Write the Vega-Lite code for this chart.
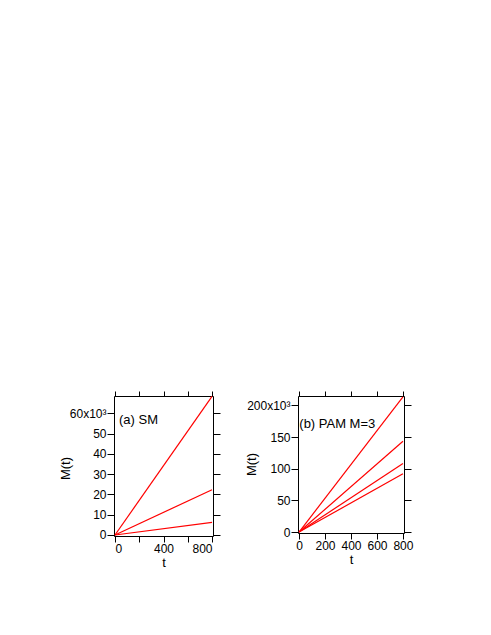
{
  "$schema": "https://vega.github.io/schema/vega-lite/v6.json",
  "background": "white",
  "padding": {"left": 58, "top": 390, "right": 5, "bottom": 5},
  "spacing": 23,
  "config": {
    "view": {"stroke": "black", "strokeWidth": 1},
    "font": "Liberation Sans",
    "axis": {
      "grid": false,
      "domain": false,
      "tickColor": "black",
      "tickSize": 7,
      "tickWidth": 1,
      "labelFont": "Liberation Sans",
      "labelFontSize": 12,
      "labelColor": "black",
      "labelPadding": 1,
      "titleFont": "Liberation Sans",
      "titleFontSize": 13,
      "titleFontWeight": "normal",
      "titleColor": "black",
      "titlePadding": 2
    }
  },
  "datasets": {
    "a": [
      {"s": 1, "t": 0, "M": 0}, {"s": 1, "t": 800, "M": 68300},
      {"s": 2, "t": 0, "M": 0}, {"s": 2, "t": 800, "M": 22300},
      {"s": 3, "t": 0, "M": 0}, {"s": 3, "t": 800, "M": 6200}
    ],
    "b": [
      {"s": 1, "t": 0, "M": 0}, {"s": 1, "t": 800, "M": 213500},
      {"s": 2, "t": 0, "M": 0}, {"s": 2, "t": 800, "M": 143500},
      {"s": 3, "t": 0, "M": 0}, {"s": 3, "t": 800, "M": 108500},
      {"s": 4, "t": 0, "M": 0}, {"s": 4, "t": 800, "M": 92000}
    ]
  },
  "hconcat": [
    {
      "width": 99,
      "height": 140,
      "layer": [
        {
          "data": {"name": "a"},
          "mark": {"type": "line", "color": "#ff0000", "strokeWidth": 1.2},
          "encoding": {
            "x": {"field": "t", "type": "quantitative",
              "scale": {"domain": [-8, 808], "nice": false, "zero": false},
              "axis": {"orient": "bottom", "tickSize": 6, "values": [0, 200, 400, 600, 800],
                "labelExpr": "datum.value % 400 == 0 ? datum.label : ''", "title": "t"}},
            "y": {"field": "M", "type": "quantitative",
              "scale": {"domain": [-500, 68500], "nice": false, "zero": false},
              "axis": {"orient": "left", "values": [0, 10000, 20000, 30000, 40000, 50000, 60000],
                "labelExpr": "datum.value == 60000 ? '60x10³' : format(datum.value / 1000, 'd')",
                "title": "M(t)", "titleX": -42, "titleY": 72}},
            "detail": {"field": "s"}
          }
        },
        {
          "data": {"name": "a"},
          "mark": {"type": "line", "opacity": 0},
          "encoding": {
            "x": {"field": "t", "type": "quantitative",
              "axis": {"orient": "top", "tickSize": 5, "values": [0, 200, 400, 600, 800], "labels": false, "title": null}},
            "y": {"field": "M", "type": "quantitative",
              "axis": {"orient": "right", "values": [0, 10000, 20000, 30000, 40000, 50000, 60000], "labels": false, "title": null}},
            "detail": {"field": "s"}
          }
        },
        {
          "data": {"values": [{"t": 33, "M": 56600, "label": "(a) SM"}]},
          "mark": {"type": "text", "align": "left", "baseline": "middle", "fontSize": 13, "font": "Liberation Sans", "color": "black"},
          "encoding": {
            "x": {"field": "t", "type": "quantitative", "axis": null},
            "y": {"field": "M", "type": "quantitative", "axis": null},
            "text": {"field": "label"}
          }
        }
      ],
      "resolve": {"axis": {"x": "independent", "y": "independent"}}
    },
    {
      "vconcat": [
        {
          "width": 106,
          "height": 137,
          "layer": [
            {
              "data": {"name": "b"},
              "mark": {"type": "line", "color": "#ff0000", "strokeWidth": 1.2},
              "encoding": {
                "x": {"field": "t", "type": "quantitative",
                  "scale": {"domain": [-8, 808], "nice": false, "zero": false},
                  "axis": {"orient": "bottom", "tickSize": 6, "values": [0, 200, 400, 600, 800], "title": "t"}},
                "y": {"field": "M", "type": "quantitative",
                  "scale": {"domain": [-1500, 215000], "nice": false, "zero": false},
                  "axis": {"orient": "left", "values": [0, 50000, 100000, 150000, 200000],
                    "labelExpr": "datum.value == 200000 ? '200x10³' : format(datum.value / 1000, 'd')",
                    "title": "M(t)", "titleX": -40, "titleY": 68}},
                "detail": {"field": "s"}
              }
            },
            {
              "data": {"name": "b"},
              "mark": {"type": "line", "opacity": 0},
              "encoding": {
                "x": {"field": "t", "type": "quantitative",
                  "axis": {"orient": "top", "tickSize": 5, "values": [0, 200, 400, 600, 800], "labels": false, "title": null}},
                "y": {"field": "M", "type": "quantitative",
                  "axis": {"orient": "right", "values": [0, 50000, 100000, 150000, 200000], "labels": false, "title": null}},
                "detail": {"field": "s"}
              }
            },
            {
              "data": {"values": [{"t": 2, "M": 170500, "label": "(b) PAM M=3"}]},
              "mark": {"type": "text", "align": "left", "baseline": "middle", "fontSize": 13, "font": "Liberation Sans", "color": "black"},
              "encoding": {
                "x": {"field": "t", "type": "quantitative", "axis": null},
                "y": {"field": "M", "type": "quantitative", "axis": null},
                "text": {"field": "label"}
              }
            }
          ],
          "resolve": {"axis": {"x": "independent", "y": "independent"}}
        }
      ]
    }
  ]
}
